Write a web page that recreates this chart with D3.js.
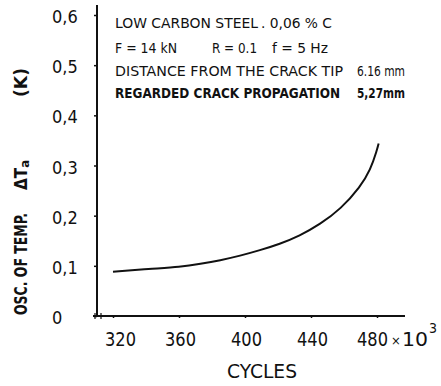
<!DOCTYPE html>
<html><head><meta charset="utf-8">
<script src="https://cdn.jsdelivr.net/npm/d3@7"></script>
<style>
html,body{margin:0;padding:0;background:#fff;}
svg{display:block;}
text{font-family:"DejaVu Sans Condensed","Liberation Sans Narrow","DejaVu Sans",sans-serif;fill:#111;}
</style></head>
<body><svg id="c" width="441" height="386"></svg>
<script>
// Data (cycles in thousands, oscillation of temperature in K)
const cycles = [320, 342, 361, 373, 385, 397, 409, 421, 433, 445.5, 458, 470, 476, 480, 481];
const dTa    = [0.088, 0.094, 0.098, 0.104, 0.111, 0.120, 0.131, 0.1435, 0.1595, 0.183, 0.213, 0.258, 0.291, 0.331, 0.344];
const xTicks = [320, 360, 400, 440, 480];
const yTicks = [0, 0.1, 0.2, 0.3, 0.4, 0.5, 0.6];
const yTickLabels = ["0", "0,1", "0,2", "0,3", "0,4", "0,5", "0,6"];
const notes = [
  [["LOW CARBON STEEL", 115, 143], [". 0,06 % C", 261, 71]],
  [["F = 14 kN", 115, 62], ["R = 0.1", 212, 45], ["f = 5 Hz", 272, 56]],
  [["DISTANCE FROM THE CRACK TIP", 115, 228], ["6.16 mm", 357, 48]],
  [["REGARDED CRACK PROPAGATION", 115, 225], ["5,27mm", 357, 48]]
];
const noteBaselines = [28, 53, 76, 98];

const svg = d3.select("#c");
const x = d3.scaleLinear().domain([320, 480]).range([113, 377]);
const y = d3.scaleLinear().domain([0, 0.6]).range([316, 15]);

// axes lines
svg.append("line").attr("x1", 97).attr("x2", 97).attr("y1", 5).attr("y2", 317)
  .attr("stroke", "#111").attr("stroke-width", 2);
svg.append("line").attr("x1", 93).attr("x2", 405).attr("y1", 316).attr("y2", 316)
  .attr("stroke", "#111").attr("stroke-width", 2);

// y axis ticks via d3 axis
const yAxis = d3.axisLeft(y).tickValues(yTicks).tickSizeInner(3).tickSizeOuter(0)
  .tickFormat((d, i) => yTickLabels[i]);
const gy = svg.append("g").attr("transform", "translate(97,0)").call(yAxis);
gy.select(".domain").remove();
gy.selectAll(".tick line").attr("stroke", "#111").attr("stroke-width", 1.5);
gy.selectAll(".tick text").attr("x", -45).attr("text-anchor", "start")
  .attr("dy", "0.42em").style("font-size", "18px").style("font-family", null);

// x axis ticks
const xAxis = d3.axisBottom(x).tickValues(xTicks).tickSizeInner(3).tickSizeOuter(0)
  .tickFormat(d3.format("d"));
const gx = svg.append("g").attr("transform", "translate(0,316)").call(xAxis);
gx.select(".domain").remove();
gx.selectAll(".tick line").attr("stroke", "#111").attr("stroke-width", 1.5).attr("y1", -1).attr("y2", 2);
gx.selectAll(".tick text").attr("y", 30).attr("dy", 0).style("font-size", "20px")
  .style("font-family", null)
  .attr("textLength", 31).attr("lengthAdjust", "spacingAndGlyphs")
  .attr("dx", d => d === 320 ? 7 : (d === 480 ? -5 : 1));
// small crosses near origin
[95, 101].forEach(px => svg.append("line").attr("x1", px).attr("x2", px).attr("y1", 313).attr("y2", 319)
  .attr("stroke", "#111").attr("stroke-width", 1.2));

// x 10^3 suffix
svg.append("text").attr("x", 391).attr("y", 345).style("font-size", "13px").text("×");
svg.append("text").attr("x", 402).attr("y", 346).style("font-size", "20px")
  .attr("textLength", 26).attr("lengthAdjust", "spacingAndGlyphs").text("10");
svg.append("text").attr("x", 429).attr("y", 333).style("font-size", "14px").text("3");

// axis titles
svg.append("text").attr("x", 262).attr("y", 378).attr("text-anchor", "middle")
  .style("font-size", "20px").attr("textLength", 70).attr("lengthAdjust", "spacingAndGlyphs").text("CYCLES");
const yTitle = [["OSC. OF TEMP.", 315, 102], ["(K)", 97, 29]];
yTitle.forEach(([t, py, w]) => {
  svg.append("text").attr("transform", `translate(27,${py}) rotate(-90)`)
    .style("font-size", "17px").style("font-weight", "bold")
    .attr("textLength", w).attr("lengthAdjust", "spacingAndGlyphs").text(t);
});
const dt = svg.append("text").attr("transform", "translate(27,190) rotate(-90)")
  .style("font-size", "17px").style("font-weight", "bold");
dt.append("tspan").text("ΔT");
dt.append("tspan").attr("dy", 2).style("font-size", "13px").text("a");

// notes
notes.forEach((line, i) => {
  line.forEach(([t, px, w]) => {
    svg.append("text").attr("x", px).attr("y", noteBaselines[i]).style("font-size", "14px")
      .style("font-weight", i === 3 ? "bold" : "normal")
      .attr("textLength", w).attr("lengthAdjust", "spacingAndGlyphs").text(t);
  });
});

// curve
const pts = cycles.map((c, i) => [c, dTa[i]]);
svg.append("path").datum(pts)
  .attr("fill", "none").attr("stroke", "#111").attr("stroke-width", 2)
  .attr("d", d3.line().x(d => x(d[0])).y(d => y(d[1])).curve(d3.curveBasis));
</script></body></html>
